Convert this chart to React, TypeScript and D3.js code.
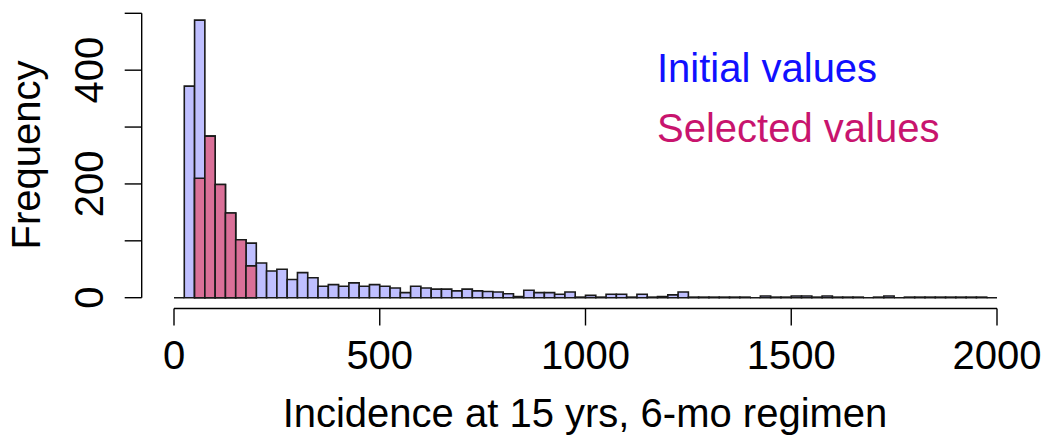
import React from "react";
import * as d3 from "d3";

const binWidth = 25;
const initialCounts = [
  0, 372, 488, 284, 199, 149, 102, 96, 61, 47,
  50, 32, 44, 35, 20, 23, 20, 26, 20, 23,
  20, 17, 9, 20, 17, 15, 15, 12, 15, 12,
  11, 10, 7, 2, 13, 9, 9, 6, 10, 1,
  4, 1, 6, 6, 1, 6, 1, 2, 5, 10,
  1, 1, 1, 1, 1, 1, 0, 3, 1, 1,
  3, 3, 1, 3, 1, 1, 1, 0, 1, 3,
  0, 1, 1, 1, 1, 1, 1, 1, 1, 0,
];
const selectedStart = 50;
const selectedCounts = [210, 284, 199, 149, 102, 56];

const xTicks = [0, 500, 1000, 1500, 2000];
const yTicks = [0, 100, 200, 300, 400, 500];
const yLabels = [0, 200, 400];

const legendItems = [
  { label: "Initial values", color: "#1010ff" },
  { label: "Selected values", color: "#c8146e" },
];

export default function App() {
  const W = 1044;
  const H = 439;
  const x = d3.scaleLinear().domain([0, 2000]).range([174, 997]);
  const y = d3.scaleLinear().domain([0, 500]).range([297.7, 13.3]);
  const font = "'Liberation Sans', Arial, sans-serif";
  const fs = 40;
  const xAxisY = 308.5;
  const yAxisX = 141.7;

  const initBins = initialCounts.map((c, i) => ({ x0: i * binWidth, x1: (i + 1) * binWidth, c }));
  const selBins = selectedCounts.map((c, i) => ({
    x0: selectedStart + i * binWidth,
    x1: selectedStart + (i + 1) * binWidth,
    c,
  }));

  const barPath = (b: { x0: number; x1: number; c: number }) => {
    const p = d3.path();
    p.moveTo(x(b.x0), y(0));
    p.lineTo(x(b.x0), y(b.c));
    p.lineTo(x(b.x1), y(b.c));
    p.lineTo(x(b.x1), y(0));
    p.closePath();
    return p.toString();
  };

  return (
    <svg width={W} height={H} style={{ position: "absolute", left: 0, top: 0, background: "#fff" }}>
      <rect x={0} y={0} width={W} height={H} fill="#fff" />
      {initBins.map((b, i) => (
        <path key={"i" + i} d={barPath(b)} fill="#bfbfff" stroke="#1a1a1a" strokeWidth={1.6} strokeLinejoin="miter" />
      ))}
      {selBins.map((b, i) => (
        <path key={"s" + i} d={barPath(b)} fill="#da7098" stroke="#1a1a1a" strokeWidth={1.6} />
      ))}
      {/* x axis */}
      <line x1={x(0)} x2={x(2000)} y1={xAxisY} y2={xAxisY} stroke="#000" strokeWidth={1.4} />
      {xTicks.map((t) => (
        <g key={"xt" + t}>
          <line x1={x(t)} x2={x(t)} y1={xAxisY} y2={xAxisY + 17} stroke="#000" strokeWidth={1.4} />
          <text x={x(t)} y={369} textAnchor="middle" fontFamily={font} fontSize={fs} fill="#000">
            {t}
          </text>
        </g>
      ))}
      {/* y axis */}
      <line x1={yAxisX} x2={yAxisX} y1={y(0)} y2={y(500)} stroke="#000" strokeWidth={1.4} />
      {yTicks.map((t) => (
        <line key={"yt" + t} x1={yAxisX - 17} x2={yAxisX} y1={y(t)} y2={y(t)} stroke="#000" strokeWidth={1.4} />
      ))}
      {yLabels.map((t) => (
        <text
          key={"yl" + t}
          transform={`translate(103,${y(t)}) rotate(-90)`}
          textAnchor="middle"
          fontFamily={font}
          fontSize={fs}
          fill="#000"
        >
          {t}
        </text>
      ))}
      <text
        transform={`translate(40,155) rotate(-90)`}
        textAnchor="middle"
        fontFamily={font}
        fontSize={fs}
        fill="#000"
      >
        Frequency
      </text>
      <text x={585} y={427} textAnchor="middle" fontFamily={font} fontSize={fs} fill="#000">
        Incidence at 15 yrs, 6-mo regimen
      </text>
      {legendItems.map((l, i) => (
        <text key={l.label} x={657} y={82 + i * 60} fontFamily={font} fontSize={fs} fill={l.color}>
          {l.label}
        </text>
      ))}
    </svg>
  );
}
